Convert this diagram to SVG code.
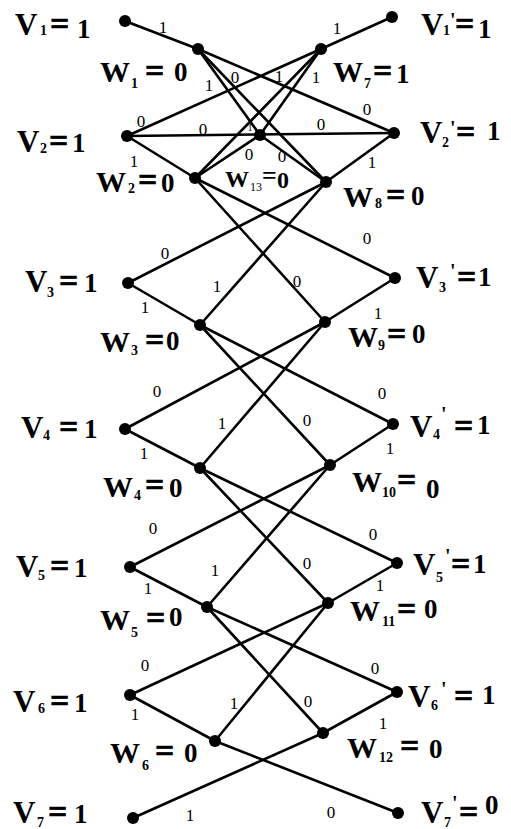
<svg xmlns="http://www.w3.org/2000/svg" width="511" height="829" viewBox="0 0 511 829">
<style>
.e{stroke:#000;stroke-width:2.6;fill:none;stroke-linecap:round}
.d{fill:#000}
text{font-family:"Liberation Serif","Times New Roman",serif;fill:#000}
.b{font-size:31px;font-weight:bold}
.w{font-size:30px;font-weight:bold}
.q{font-size:34px;font-weight:bold;stroke:#000;stroke-width:0.6}
.s{font-size:14px;font-weight:bold}
.v{font-size:27px;font-weight:bold}
.p{font-size:20px;font-weight:bold}
.l{font-size:17px;text-anchor:middle}
</style>
<rect width="511" height="829" fill="#fff"/>
<g id="connectors">
<line class="e" x1="125" y1="21" x2="198" y2="49"/>
<line class="e" x1="198" y1="49" x2="394" y2="133"/>
<line class="e" x1="127" y1="136" x2="321" y2="49"/>
<line class="e" x1="321" y1="49" x2="392" y2="17"/>
<line class="e" x1="127" y1="136" x2="394" y2="133"/>
<line class="e" x1="127" y1="136" x2="195" y2="178"/>
<line class="e" x1="198" y1="49" x2="260" y2="135"/>
<line class="e" x1="198" y1="49" x2="326" y2="182"/>
<line class="e" x1="321" y1="49" x2="260" y2="135"/>
<line class="e" x1="321" y1="49" x2="195" y2="178"/>
<line class="e" x1="195" y1="178" x2="260" y2="135"/>
<line class="e" x1="260" y1="135" x2="326" y2="182"/>
<line class="e" x1="195" y1="178" x2="395" y2="278"/>
<line class="e" x1="195" y1="178" x2="325" y2="322"/>
<line class="e" x1="128" y1="283" x2="326" y2="182"/>
<line class="e" x1="128" y1="283" x2="200" y2="325"/>
<line class="e" x1="200" y1="325" x2="326" y2="182"/>
<line class="e" x1="200" y1="325" x2="393" y2="424"/>
<line class="e" x1="200" y1="325" x2="330" y2="465"/>
<line class="e" x1="326" y1="182" x2="394" y2="133"/>
<line class="e" x1="325" y1="322" x2="395" y2="278"/>
<line class="e" x1="125" y1="429" x2="325" y2="322"/>
<line class="e" x1="125" y1="429" x2="200" y2="468"/>
<line class="e" x1="200" y1="468" x2="325" y2="322"/>
<line class="e" x1="200" y1="468" x2="397" y2="563"/>
<line class="e" x1="200" y1="468" x2="328" y2="603"/>
<line class="e" x1="330" y1="465" x2="393" y2="424"/>
<line class="e" x1="130" y1="567" x2="330" y2="465"/>
<line class="e" x1="130" y1="567" x2="207" y2="607"/>
<line class="e" x1="207" y1="607" x2="330" y2="465"/>
<line class="e" x1="207" y1="607" x2="397" y2="692"/>
<line class="e" x1="207" y1="607" x2="323" y2="733"/>
<line class="e" x1="328" y1="603" x2="397" y2="563"/>
<line class="e" x1="130" y1="695" x2="328" y2="603"/>
<line class="e" x1="130" y1="695" x2="215" y2="741"/>
<line class="e" x1="215" y1="741" x2="328" y2="603"/>
<line class="e" x1="215" y1="741" x2="398" y2="813"/>
<line class="e" x1="323" y1="733" x2="397" y2="692"/>
<line class="e" x1="133" y1="818" x2="323" y2="733"/>
</g>
<g id="edge-labels">
<text class="l" x="163" y="33">1</text>
<text class="l" x="337" y="34">1</text>
<text class="l" x="235" y="83">0</text>
<text class="l" x="209" y="91">1</text>
<text class="l" x="279" y="82">1</text>
<text class="l" x="316" y="83">1</text>
<text class="l" x="141" y="127">0</text>
<text class="l" x="203" y="135">0</text>
<text class="l" x="321" y="130">0</text>
<text class="l" x="367" y="115">0</text>
<text class="l" x="372" y="168">1</text>
<text class="l" x="249" y="160">0</text>
<text class="l" x="282" y="162">0</text>
<text x="250" y="131" style="font-size:10px;text-anchor:middle">1</text>
<text class="l" x="134" y="167">1</text>
<text class="l" x="165" y="259">0</text>
<text class="l" x="145" y="313">1</text>
<text class="l" x="217" y="292">1</text>
<text class="l" x="297" y="287">0</text>
<text class="l" x="367" y="244">0</text>
<text class="l" x="378" y="319">1</text>
<text class="l" x="157" y="397">0</text>
<text class="l" x="382" y="399">0</text>
<text class="l" x="144" y="459">1</text>
<text class="l" x="222" y="429">1</text>
<text class="l" x="307" y="426">0</text>
<text class="l" x="390" y="454">1</text>
<text class="l" x="153" y="534">0</text>
<text class="l" x="373" y="540">0</text>
<text class="l" x="148" y="594">1</text>
<text class="l" x="215" y="576">1</text>
<text class="l" x="307" y="569">0</text>
<text class="l" x="380" y="591">1</text>
<text class="l" x="145" y="671">0</text>
<text class="l" x="375" y="674">0</text>
<text class="l" x="135" y="720">1</text>
<text class="l" x="234" y="709">1</text>
<text class="l" x="308" y="707">0</text>
<text class="l" x="383" y="729">1</text>
<text class="l" x="190" y="821">1</text>
<text class="l" x="331" y="818">0</text>
</g>
<g id="V1"><circle class="d" cx="125" cy="21" r="6"/><text><tspan class="b" x="15" y="35">V</tspan><tspan class="s" x="40" y="35">1</tspan><tspan class="q" x="50" y="35">=</tspan><tspan class="v" x="77" y="38">1</tspan></text></g>
<g id="V2"><circle class="d" cx="127" cy="136" r="6"/><text><tspan class="b" x="17" y="152">V</tspan><tspan class="s" x="40" y="153">2</tspan><tspan class="q" x="49" y="152">=</tspan><tspan class="v" x="72" y="152">1</tspan></text></g>
<g id="V3"><circle class="d" cx="128" cy="283" r="6"/><text><tspan class="b" x="25" y="292">V</tspan><tspan class="s" x="47" y="297">3</tspan><tspan class="q" x="59" y="292">=</tspan><tspan class="v" x="84" y="292">1</tspan></text></g>
<g id="V4"><circle class="d" cx="125" cy="429" r="6"/><text><tspan class="b" x="21" y="438">V</tspan><tspan class="s" x="43" y="440">4</tspan><tspan class="q" x="59" y="438">=</tspan><tspan class="v" x="84" y="438">1</tspan></text></g>
<g id="V5"><circle class="d" cx="130" cy="567" r="6"/><text><tspan class="b" x="16" y="577">V</tspan><tspan class="s" x="38" y="580">5</tspan><tspan class="q" x="50" y="577">=</tspan><tspan class="v" x="74" y="577">1</tspan></text></g>
<g id="V6"><circle class="d" cx="130" cy="695" r="6"/><text><tspan class="b" x="13" y="712">V</tspan><tspan class="s" x="38" y="713">6</tspan><tspan class="q" x="50" y="712">=</tspan><tspan class="v" x="74" y="712">1</tspan></text></g>
<g id="V7"><circle class="d" cx="133" cy="818" r="6"/><text><tspan class="b" x="13" y="823">V</tspan><tspan class="s" x="37" y="827">7</tspan><tspan class="q" x="48" y="823">=</tspan><tspan class="v" x="74" y="823">1</tspan></text></g>
<g id="V1p"><circle class="d" cx="392" cy="17" r="6"/><text><tspan class="b" x="421" y="35">V</tspan><tspan class="s" x="443" y="35">1</tspan><tspan class="p" x="450" y="27">'</tspan><tspan class="q" x="455" y="35">=</tspan><tspan class="v" x="478" y="38">1</tspan></text></g>
<g id="V2p"><circle class="d" cx="394" cy="133" r="6"/><text><tspan class="b" x="420" y="143">V</tspan><tspan class="s" x="442" y="147">2</tspan><tspan class="p" x="450" y="135">'</tspan><tspan class="q" x="456" y="143">=</tspan><tspan class="v" x="487" y="140">1</tspan></text></g>
<g id="V3p"><circle class="d" cx="395" cy="278" r="6"/><text><tspan class="b" x="416" y="288">V</tspan><tspan class="s" x="439" y="292">3</tspan><tspan class="p" x="450" y="278">'</tspan><tspan class="q" x="457" y="288">=</tspan><tspan class="v" x="478" y="286">1</tspan></text></g>
<g id="V4p"><circle class="d" cx="393" cy="424" r="6"/><text><tspan class="b" x="410" y="437">V</tspan><tspan class="s" x="433" y="439">4</tspan><tspan class="p" x="441" y="421">'</tspan><tspan class="q" x="454" y="437">=</tspan><tspan class="v" x="477" y="434">1</tspan></text></g>
<g id="V5p"><circle class="d" cx="397" cy="563" r="6"/><text><tspan class="b" x="413" y="575">V</tspan><tspan class="s" x="436" y="582">5</tspan><tspan class="p" x="445" y="563">'</tspan><tspan class="q" x="451" y="575">=</tspan><tspan class="v" x="473" y="573">1</tspan></text></g>
<g id="V6p"><circle class="d" cx="397" cy="692" r="6"/><text><tspan class="b" x="408" y="707">V</tspan><tspan class="s" x="431" y="710">6</tspan><tspan class="p" x="441" y="696">'</tspan><tspan class="q" x="454" y="707">=</tspan><tspan class="v" x="482" y="704">1</tspan></text></g>
<g id="V7p"><circle class="d" cx="398" cy="813" r="6"/><text><tspan class="b" x="421" y="823">V</tspan><tspan class="s" x="444" y="827">7</tspan><tspan class="p" x="452" y="810">'</tspan><tspan class="q" x="459" y="823">=</tspan><tspan class="v" x="485" y="814">0</tspan></text></g>
<g id="W1"><circle class="d" cx="198" cy="49" r="6"/><text><tspan class="w" x="100" y="82">W</tspan><tspan class="s" x="131" y="88">1</tspan><tspan class="q" x="145" y="82">=</tspan><tspan class="v" x="174" y="81">0</tspan></text></g>
<g id="W2"><circle class="d" cx="195" cy="178" r="6"/><text><tspan class="w" x="96" y="192">W</tspan><tspan class="s" x="128" y="193">2</tspan><tspan class="q" x="138" y="191">=</tspan><tspan class="v" x="161" y="192">0</tspan></text></g>
<g id="W3"><circle class="d" cx="200" cy="325" r="6"/><text><tspan class="w" x="100" y="352">W</tspan><tspan class="s" x="131" y="355">3</tspan><tspan class="q" x="145" y="351">=</tspan><tspan class="v" x="166" y="350">0</tspan></text></g>
<g id="W4"><circle class="d" cx="200" cy="468" r="6"/><text><tspan class="w" x="103" y="497">W</tspan><tspan class="s" x="134" y="500">4</tspan><tspan class="q" x="145" y="496">=</tspan><tspan class="v" x="169" y="497">0</tspan></text></g>
<g id="W5"><circle class="d" cx="207" cy="607" r="6"/><text><tspan class="w" x="100" y="630">W</tspan><tspan class="s" x="131" y="637">5</tspan><tspan class="q" x="146" y="629">=</tspan><tspan class="v" x="169" y="626">0</tspan></text></g>
<g id="W6"><circle class="d" cx="215" cy="741" r="6"/><text><tspan class="w" x="110" y="763">W</tspan><tspan class="s" x="142" y="770">6</tspan><tspan class="q" x="155" y="762">=</tspan><tspan class="v" x="184" y="762">0</tspan></text></g>
<g id="W7"><circle class="d" cx="321" cy="49" r="6"/><text><tspan class="w" x="333" y="82">W</tspan><tspan class="s" x="364" y="88">7</tspan><tspan class="q" x="373" y="82">=</tspan><tspan class="v" x="396" y="83">1</tspan></text></g>
<g id="W8"><circle class="d" cx="326" cy="182" r="6"/><text><tspan class="w" x="343" y="207">W</tspan><tspan class="s" x="375" y="208">8</tspan><tspan class="q" x="386" y="206">=</tspan><tspan class="v" x="411" y="205">0</tspan></text></g>
<g id="W9"><circle class="d" cx="325" cy="322" r="6"/><text><tspan class="w" x="348" y="347">W</tspan><tspan class="s" x="378" y="350">9</tspan><tspan class="q" x="387" y="345">=</tspan><tspan class="v" x="412" y="343">0</tspan></text></g>
<g id="W10"><circle class="d" cx="330" cy="465" r="6"/><text><tspan class="w" x="352" y="492">W</tspan><tspan class="s" x="382" y="497">10</tspan><tspan class="q" x="397" y="491">=</tspan><tspan class="v" x="426" y="498">0</tspan></text></g>
<g id="W11"><circle class="d" cx="328" cy="603" r="6"/><text><tspan class="w" x="350" y="621">W</tspan><tspan class="s" x="382" y="626">11</tspan><tspan class="q" x="397" y="620">=</tspan><tspan class="v" x="424" y="618">0</tspan></text></g>
<g id="W12"><circle class="d" cx="323" cy="733" r="6"/><text><tspan class="w" x="347" y="758">W</tspan><tspan class="s" x="379" y="762">12</tspan><tspan class="q" x="400" y="757">=</tspan><tspan class="v" x="429" y="758">0</tspan></text></g>
<g id="W13"><circle class="d" cx="260" cy="135" r="6"/><text><tspan style="font-size:24px;font-weight:bold" x="225" y="187">W</tspan><tspan style="font-size:12px" x="250" y="191">13</tspan><tspan style="font-size:26px;font-weight:bold" x="262" y="184">=</tspan><tspan style="font-size:24px;font-weight:bold" x="277" y="188">0</tspan></text></g>
</svg>
